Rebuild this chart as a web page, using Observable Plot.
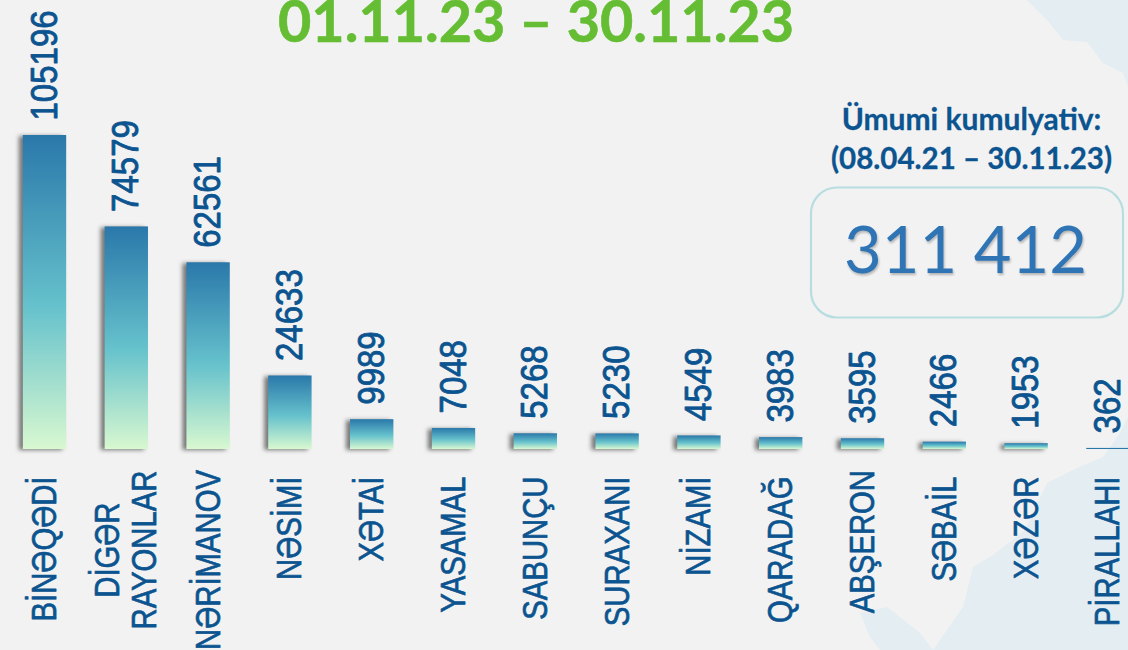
<!DOCTYPE html>
<html><head><meta charset="utf-8">
<style>
html,body{margin:0;padding:0;background:#f2f2f2;width:1128px;height:650px;overflow:hidden}
#wrap{position:relative;width:1128px;height:650px}
.map{position:absolute;inset:0;background:#e3edf2}
#m1{clip-path:polygon(1027px 0,1047px 20px,1063px 40px,1087px 42px,1103px 63px,1123px 73px,1128px 87px,1128px 0)}
#m2{clip-path:polygon(860px 613px,887px 607px,920px 633px,933px 650px,880px 650px,870px 637px)}
#m3{clip-path:polygon(933px 650px,963px 607px,973px 567px,993px 555px,1025px 530px,1047px 483px,1077px 468px,1103px 457px,1120px 433px,1128px 417px,1128px 650px)}
svg{position:absolute;left:0;top:0;background:transparent!important;overflow:hidden}
.bars rect{filter:drop-shadow(-4px 1px 2px rgba(0,0,0,.5))}
.big text{filter:drop-shadow(1px 2px 1px rgba(0,0,0,.25))}
</style>
<script src="https://cdn.jsdelivr.net/npm/d3@7"></script>
<script src="https://cdn.jsdelivr.net/npm/@observablehq/plot@0.6"></script>
</head><body><div id="wrap">
<div class="map" id="m1"></div><div class="map" id="m2"></div><div class="map" id="m3"></div>
</div>
<script>
const categories = ["BİNƏQƏDİ","DİGƏR RAYONLAR","NƏRİMANOV","NƏSİMİ","XƏTAİ","YASAMAL","SABUNÇU","SURAXANI","NİZAMİ","QARADAĞ","ABŞERON","SƏBAİL","XƏZƏR","PİRALLAHI"];
const values = [105196,74579,62561,24633,9989,7048,5268,5230,4549,3983,3595,2466,1953,362];
const valueLabels = ["105196","74579","62561","24633","9989","7048","5268","5230","4549","3983","3595","2466","1953","362"];
const titleText = "01.11.23 – 30.11.23";
const cumulativeLines = ["Ümumi kumulyativ:","(08.04.21 – 30.11.23)"];
const cumulativeValue = "311 412";
const raisedLabels = ["NƏRİMANOV","ABŞERON"];

const rows = categories.map((c,i)=>({c,v:values[i],t:valueLabels[i]}));
const blue="#0b5490";
const labelFont="'Liberation Sans',sans-serif";
const catStyle={x:"c",rotate:-90,textAnchor:"end",lineAnchor:"middle",fill:blue,fontFamily:labelFont,fontSize:29.3,stroke:blue,strokeWidth:.6,frameAnchor:"top",className:"stretch"};
const plain=rows.filter(d=>!raisedLabels.includes(d.c)&&d.c!=="DİGƏR RAYONLAR");
const raised=rows.filter(d=>raisedLabels.includes(d.c));
const two=rows.filter(d=>d.c==="DİGƏR RAYONLAR");
const note=(s,o)=>Plot.text([s],{frameAnchor:"top-left",lineAnchor:"middle",...o});

const chart=Plot.plot({
  width:1128,height:650,margin:0,
  style:{background:"transparent"},
  x:{type:"band",domain:categories,range:[3.6,1148.8],paddingInner:.47,paddingOuter:.235,align:.5,round:false,axis:null},
  y:{domain:[0,105196],range:[449,135],axis:null},
  marks:[
    Plot.barY(rows.filter(d=>d.c!=="PİRALLAHI"),{x:"c",y:"v",fill:"url(#barGrad)",className:"bars"}),
    Plot.barY(rows.filter(d=>d.c==="PİRALLAHI"),{x:"c",y:"v",fill:"#2a78aa"}),
    Plot.text(rows,{x:"c",y:"v",text:"t",rotate:-90,textAnchor:"start",lineAnchor:"middle",dy:-15,fill:blue,fontFamily:labelFont,fontSize:33,stroke:blue,strokeWidth:.8,className:"stretchV"}),
    Plot.text(plain,{...catStyle,text:"c",dy:476}),
    Plot.text(raised,{...catStyle,text:"c",dy:469.5}),
    Plot.text(two,{...catStyle,text:()=>"DİGƏR",dx:-19,dy:502}),
    Plot.text(two,{...catStyle,text:()=>"RAYONLAR",dx:18,dy:470}),
    note(titleText,{dx:535.5,dy:23.5,textAnchor:"middle",fill:"#64bd32",stroke:"#64bd32",strokeWidth:.6,fontFamily:"Lato",fontWeight:"bold",fontSize:57.5}),
    note(cumulativeLines[0],{dx:971,dy:120,textAnchor:"middle",fill:blue,stroke:blue,strokeWidth:.3,fontFamily:"Lato",fontWeight:"bold",fontSize:30}),
    note(cumulativeLines[1],{dx:971,dy:159,textAnchor:"middle",fill:blue,stroke:blue,strokeWidth:.3,fontFamily:"Lato",fontWeight:"bold",fontSize:29.5}),
    note(cumulativeValue,{dx:965,dy:252,textAnchor:"middle",fill:"#2f75b5",fontFamily:"Lato",fontSize:65,className:"big"})
  ]
});
const svg=d3.select(chart);
const g=svg.insert("defs",":first-child").append("linearGradient").attr("id","barGrad").attr("x1",0).attr("y1",0).attr("x2",0).attr("y2",1);
[[0,"#2a78aa"],[.55,"#66c2cc"],[1,"#d8f8d0"]].forEach(([o,c])=>g.append("stop").attr("offset",o).attr("stop-color",c));
svg.append("rect").attr("x",811).attr("y",187.5).attr("width",312).attr("height",130).attr("rx",26).attr("fill","none").attr("stroke","#b7dde0").attr("stroke-width",2.2);
svg.selectAll(".stretch text").attr("transform",function(){return this.getAttribute("transform")+" scale(1,1.17)";});
svg.selectAll(".stretchV text").attr("transform",function(){return this.getAttribute("transform")+" scale(1,1.1)";});
document.getElementById("wrap").appendChild(chart);
</script></body></html>
